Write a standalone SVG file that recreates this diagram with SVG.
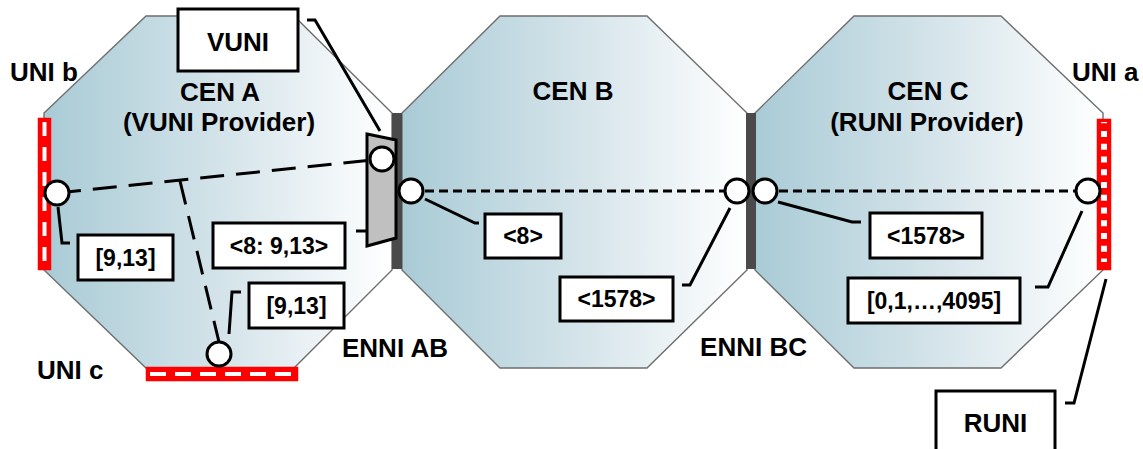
<svg xmlns="http://www.w3.org/2000/svg" width="1143" height="449" viewBox="0 0 1143 449">
  <style>
    text { font-family: "Liberation Sans", Arial, Helvetica, sans-serif; font-weight: bold; fill: #000; }
    .title { font-size: 26px; text-anchor: middle; }
    .lbl { font-size: 26px; }
    .box { fill: #fff; stroke: #000; stroke-width: 3; }
    .btxt { font-size: 23px; text-anchor: middle; }
    .oct { fill: url(#cenGrad); stroke: #6e6e6e; stroke-width: 1.4; }
    .enni { fill: #4a4a4a; }
    .uni { fill: #ff0000; stroke: #ff0000; stroke-width: 1.5; }
    .ep { fill: #fff; stroke: #000; stroke-width: 3; }
    .lead { fill: none; stroke: #000; stroke-width: 3; stroke-linejoin: miter; }
    .longdash { fill: none; stroke: #000; stroke-width: 3; stroke-dasharray: 24 12; }
    .shortdash { fill: none; stroke: #000; stroke-width: 3; stroke-dasharray: 9 5; }
  </style>
  <defs>
    <linearGradient id="cenGrad" x1="0" y1="0" x2="1" y2="0">
      <stop offset="0" stop-color="#a9cbd6"/>
      <stop offset="0.5" stop-color="#d3e3e9"/>
      <stop offset="1" stop-color="#ffffff"/>
    </linearGradient>
  </defs>

  <!-- Carrier Ethernet Networks -->
  <g id="cen-a">
    <polygon class="oct" points="146,16 294,16 392,113 392,270 294,368 146,368 44,270 44,113"/>
    <text class="title" x="220" y="101">CEN A</text>
    <text class="title" x="219" y="131">(VUNI Provider)</text>
  </g>
  <g id="cen-b">
    <polygon class="oct" points="500,16 647,16 747,113 747,270 647,368 500,368 402,270 402,113"/>
    <text class="title" x="573" y="100">CEN B</text>
  </g>
  <g id="cen-c">
    <polygon class="oct" points="854,16 1001,16 1103,113 1103,270 1001,368 854,368 755,270 755,113"/>
    <text class="title" x="928" y="100">CEN C</text>
    <text class="title" x="927" y="131">(RUNI Provider)</text>
  </g>

  <!-- ENNIs -->
  <g id="enni-ab">
    <rect class="enni" x="392" y="113" width="10" height="156"/>
    <text class="lbl" x="342" y="357">ENNI AB</text>
  </g>
  <g id="enni-bc">
    <rect class="enni" x="746" y="113" width="10" height="156"/>
    <text class="lbl" x="807" y="356" text-anchor="end">ENNI BC</text>
  </g>

  <!-- UNIs -->
  <g id="uni-b">
    <rect class="uni" x="38.5" y="118.5" width="12" height="151"/>
    <line x1="44.5" y1="122" x2="44.5" y2="266" stroke="#fff" stroke-width="4" stroke-dasharray="14 11"/>
    <text class="lbl" x="10" y="81">UNI b</text>
  </g>
  <g id="uni-c">
    <rect class="uni" x="146.5" y="367.5" width="151" height="13"/>
    <line x1="150" y1="374" x2="295" y2="374" stroke="#fff" stroke-width="4" stroke-dasharray="16 9"/>
    <text class="lbl" x="37" y="379">UNI c</text>
  </g>
  <g id="uni-a">
    <rect class="uni" x="1097.5" y="119.5" width="13" height="150"/>
    <rect x="1101" y="122" width="6" height="1.2" fill="#fff"/>
    <line x1="1104" y1="131" x2="1104" y2="262" stroke="#fff" stroke-width="6" stroke-dasharray="6 6.75"/>
    <text class="lbl" x="1072" y="81">UNI a</text>
  </g>

  <!-- Connectors -->
  <g id="connectors">
    <line class="longdash" x1="57" y1="193" x2="382" y2="159"/>
    <line class="longdash" x1="180" y1="181" x2="219" y2="342"/>
    <line class="shortdash" x1="411" y1="191" x2="737" y2="191"/>
    <line class="shortdash" x1="765" y1="191" x2="1088" y2="191"/>
    <!-- leader lines -->
    <polyline class="lead" points="307,20 315,20 380,131"/>
    <polyline class="lead" points="58,207 62,243 70,243"/>
    <polyline class="lead" points="381,183 367,231 356,231"/>
    <polyline class="lead" points="229,334 232,292 241,292"/>
    <polyline class="lead" points="425,199 475,223 479,223"/>
    <polyline class="lead" points="730,208 690,285 682,285"/>
    <polyline class="lead" points="778,202 852,222 861,222"/>
    <polyline class="lead" points="1082,211 1048,287 1035,287"/>
    <polyline class="lead" points="1106,279 1074,403 1065,403"/>
  </g>

  <!-- VUNI -->
  <g id="vuni">
    <polygon points="367,134 396,140 396,238 367,246" fill="#c0c0c0" stroke="#000" stroke-width="3" stroke-linejoin="miter"/>
    <rect class="box" x="178" y="9" width="120" height="62"/>
    <text class="title" x="238" y="51">VUNI</text>
  </g>

  <!-- RUNI -->
  <g id="runi">
    <rect class="box" x="936" y="391" width="119" height="70"/>
    <text class="title" x="995.5" y="432">RUNI</text>
  </g>

  <!-- Endpoints -->
  <g id="ep-uni-b"><circle class="ep" cx="57" cy="193" r="12"/></g>
  <g id="ep-vuni"><circle class="ep" cx="382" cy="159" r="12"/></g>
  <g id="ep-uni-c"><circle class="ep" cx="219" cy="354" r="12"/></g>
  <g id="ep-enni-ab-b"><circle class="ep" cx="411" cy="191" r="12"/></g>
  <g id="ep-enni-bc-b"><circle class="ep" cx="737" cy="191" r="12"/></g>
  <g id="ep-enni-bc-c"><circle class="ep" cx="765" cy="191" r="12"/></g>
  <g id="ep-uni-a"><circle class="ep" cx="1088" cy="191" r="12"/></g>

  <!-- Labels -->
  <g id="lbl-uni-b-vid">
    <rect class="box" x="78" y="235" width="95" height="45"/>
    <text class="btxt" x="125.5" y="266">[9,13]</text>
  </g>
  <g id="lbl-vuni-map">
    <rect class="box" x="213" y="223" width="132" height="45"/>
    <text class="btxt" x="279" y="254">&lt;8: 9,13&gt;</text>
  </g>
  <g id="lbl-uni-c-vid">
    <rect class="box" x="249" y="283" width="95" height="45"/>
    <text class="btxt" x="296.5" y="314">[9,13]</text>
  </g>
  <g id="lbl-enni-ab-b">
    <rect class="box" x="485" y="214" width="76" height="44"/>
    <text class="btxt" x="523" y="244">&lt;8&gt;</text>
  </g>
  <g id="lbl-enni-bc-b">
    <rect class="box" x="560" y="277" width="113" height="44"/>
    <text class="btxt" x="616.5" y="307">&lt;1578&gt;</text>
  </g>
  <g id="lbl-enni-bc-c">
    <rect class="box" x="870" y="213" width="112" height="45"/>
    <text class="btxt" x="926" y="244">&lt;1578&gt;</text>
  </g>
  <g id="lbl-uni-a-vid">
    <rect class="box" x="848" y="278" width="172" height="45"/>
    <text class="btxt" x="934" y="309">[0,1,…,4095]</text>
  </g>
</svg>
